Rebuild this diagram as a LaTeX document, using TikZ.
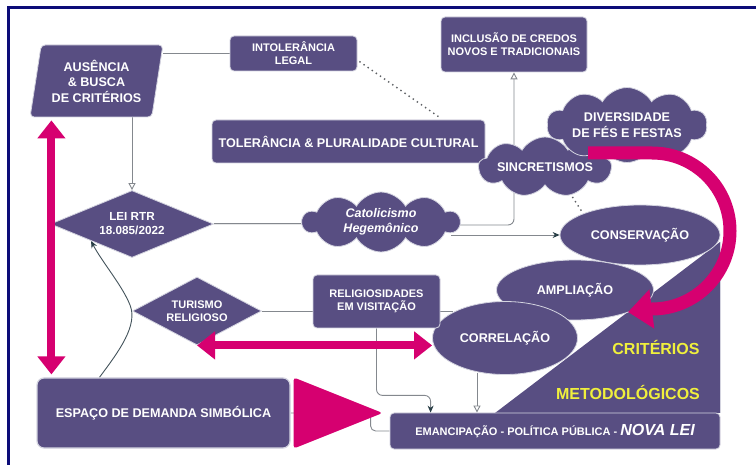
\documentclass[tikz,border=0pt]{standalone}
\usepackage{fontspec}
\setsansfont{Liberation Sans}
\usetikzlibrary{calc,shapes.geometric,shapes.symbols,arrows.meta,backgrounds}
\definecolor{purp}{RGB}{88,78,130}
\definecolor{mag}{RGB}{214,0,112}
\definecolor{critYellow}{RGB}{240,240,60}
\definecolor{edge}{RGB}{212,212,224}
\definecolor{connGray}{RGB}{132,136,142}
\definecolor{tipDark}{RGB}{40,62,70}
\definecolor{frameBlue}{RGB}{12,12,120}
\def\smallfont{\sffamily\bfseries\fontsize{11}{13}\selectfont}
\def\bigfont{\sffamily\bfseries\fontsize{12.6}{15.5}\selectfont}
\tikzset{
  pbox/.style={fill=purp, draw=edge, line width=0.8pt, rounded corners=4pt, text=white, align=center, inner sep=0pt, font=\smallfont},
  pell/.style={ellipse, fill=purp, draw=edge, line width=0.8pt, text=white, inner sep=0pt, font=\bigfont},
  pcloud/.style={cloud, cloud puffs=10, cloud puff arc=120, cloud ignores aspect, fill=purp, draw=edge, line width=0.8pt, text=white, align=center, inner sep=0pt, font=\bigfont},
  pdiam/.style={diamond, fill=purp, draw=edge, line width=0.8pt, text=white, align=center, inner sep=0pt, font=\smallfont},
  crit/.style={text=critYellow, inner sep=0pt, font=\sffamily\bfseries\fontsize{16}{18}\selectfont},
  conn/.style={draw=connGray, line width=0.9pt},
  dotconn/.style={draw=connGray!70!black, line width=1.4pt, dash pattern=on 1.4pt off 3.6pt},
  opentip/.style={-{Triangle[open, length=7pt, width=7pt, fill=white]}},
  darktip/.style={-{Stealth[length=7pt, width=6pt, color=tipDark]}},
  magarrow/.style={draw=mag, line width=8pt, {Triangle[length=18pt, width=27pt]}-{Triangle[length=18pt, width=27pt]}},
}

\begin{document}
\begin{tikzpicture}[x=1pt, y=-1pt]
		%%%%% START %%%%%
		\useasboundingbox (0,0) rectangle (756,465);
		
		% fundo dos criterios
		\fill[purp] (495,413) -- (720,413) -- (720,242) -- cycle;
		\draw[edge, line width=0.8pt] (720,242) -- (720,413);
		\node[crit] (crit) at (656,347) {CRITÉRIOS};
		\node[crit] (metod) at (628,392) {METODOLÓGICOS};
		
		% caixas
		\node[trapezium, trapezium left angle=78, trapezium right angle=102, trapezium stretches=true, minimum width=133pt, minimum height=72pt, pbox, font=\bigfont] (ausencia) at (96.5,81) {AUSÊNCIA\\\& BUSCA\\DE CRITÉRIOS};
		\node[pbox, minimum width=127pt, minimum height=35pt] (intol) at (293.5,53.5) {INTOLERÂNCIA\\LEGAL};
		\node[pbox, minimum width=273pt, minimum height=43pt, font=\bigfont] (tol) at (348.5,141.5) {TOLERÂNCIA \& PLURALIDADE CULTURAL};
		\node[pbox, minimum width=146pt, minimum height=55pt] (inclusao) at (514,44.5) {INCLUSÃO DE CREDOS\\NOVOS E TRADICIONAIS};
		\node[pdiam, aspect=2.4, minimum width=163pt, minimum height=67pt, font=\sffamily\bfseries\fontsize{11.7}{14}\selectfont] (lei) at (132,224) {LEI RTR\\18.085/2022};
		\node[pcloud, minimum width=157pt, minimum height=60pt, font=\sffamily\bfseries\itshape\fontsize{12.5}{15.5}\selectfont] (catol) at (381,222) {Catolicismo\\Hegemônico};
		\node[pcloud, cloud puffs=9, minimum width=133pt, minimum height=60pt] (sincr) at (545,167) {SINCRETISMOS};
		\node[pcloud, minimum width=160pt, minimum height=75pt] (divers) at (627,125) {DIVERSIDADE\\DE FÉS E FESTAS};
		\node[pell, minimum width=160pt, minimum height=60pt] (conserv) at (640,235) {CONSERVAÇÃO};
		\node[pell, minimum width=157pt, minimum height=60pt] (ampl) at (575,290) {AMPLIAÇÃO};
		\node[pell, minimum width=145pt, minimum height=73pt] (corr) at (505,338) {CORRELAÇÃO};
		\node[pdiam, aspect=1.9, minimum width=129pt, minimum height=68pt] (turismo) at (197,311) {TURISMO\\RELIGIOSO};
		\node[pbox, minimum width=127pt, minimum height=53pt] (relig) at (376.5,301.5) {RELIGIOSIDADES\\EM VISITAÇÃO};
		\node[pbox, rounded corners=7pt, line width=1.2pt, minimum width=253pt, minimum height=70pt, font=\bigfont] (espaco) at (163.5,413) {ESPAÇO DE DEMANDA SIMBÓLICA};
		\node[pbox, minimum width=330pt, minimum height=36pt] (emanc) at (555,431) {EMANCIPAÇÃO - POLÍTICA PÚBLICA - {\fontsize{16}{18}\selectfont\itshape NOVA LEI}};
		
		% ligacoes
		\begin{scope}[on background layer]
		\fill[white] (0,0) rectangle (756,465);
		\draw[frameBlue, line width=3pt] (8,465) -- (8,7.5) -- (756,7.5);
		\draw[conn] (intol.west) -- (intol.west -| ausencia.top right corner);
		\draw[dotconn] ($(intol.east)+(2,8)$) -- ($(tol.north east)+(-47,-3)$);
		\draw[conn, opentip] (lei.north |- ausencia.south) -- (lei.north);
		\draw[draw=connGray, line width=0.8pt, double=white!80!connGray, double distance=0.8pt] (lei.east) -- (lei.east -| catol.west);
		\draw[conn, rounded corners=6pt, opentip] ($(catol.east)+(-10,3)$) -| (inclusao.south);
		\coordinate (catolout) at ($(catol.east)+(-10,13)$);
		\draw[conn, darktip] (catolout) -- (catolout -| conserv.west);
		\draw[dotconn] ($(sincr.south)+(22,3)$) -- (conserv.north west);
		\draw[conn, draw=tipDark!70!connGray, darktip] ($(espaco.north west)+(63,0)$) .. controls (120,350) and (138,325) .. (130,305) .. controls (122,285) and (102,262) .. (lei.south west);
		\draw[conn] (turismo.east) -- (turismo.east -| relig.west);
		\draw[conn] (relig.east |- corr.north west) -- (corr.north west);
		\coordinate (emancin) at ($(emanc.north west)+(41,0)$);
		\draw[conn, rounded corners=6pt, darktip] (relig.south) -- ++(0,67) -| (emancin);
		\coordinate (corrout) at ($(corr.south)+(-28,-2)$);
		\draw[conn, opentip] (corrout) -- (corrout |- emanc.north);
		\draw[conn, rounded corners=5pt] (espaco.east) -- ++(80,0) |- (emanc.west);
		\end{scope}
		
		% setas magenta
		\coordinate (vbot) at ($(espaco.north west)+(15,0)$);
		\draw[magarrow, shorten <=3pt, shorten >=3pt] (vbot) -- (vbot |- ausencia.south);
		\draw[magarrow] (turismo.south) -- (turismo.south -| corr.west);
		\fill[mag, rounded corners=3pt] ($(espaco.north east)+(3,0)$) -- ($(espaco.south east)+(3,0)$) -- ($(espaco.east)+(92,0)$) -- cycle;
		\coordinate (arcstart) at (588,153);
		\draw[mag, line width=13pt, -{Triangle[length=24pt, width=38pt]}] (arcstart) -- (652,153) arc[start angle=-90, end angle=90, radius=78] -- ++(-24,3);
		%%%%% END %%%%%
\end{tikzpicture}
\end{document}
